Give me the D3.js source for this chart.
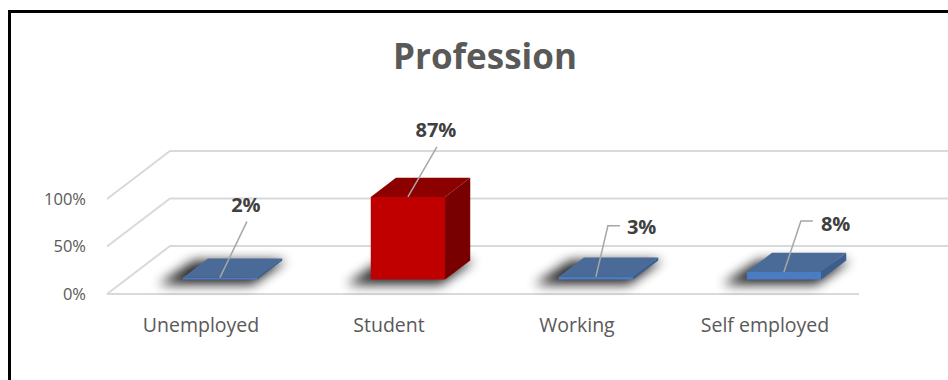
<!DOCTYPE html>
<html>
<head>
<meta charset="utf-8">
<script src="https://cdn.jsdelivr.net/npm/d3@7"></script>
<style>
  html, body { margin: 0; background: #fff; overflow: hidden; }
  svg { display: block; font-family: 'Open Sans', sans-serif; }
</style>
</head>
<body>
<svg id="chart" width="948" height="380"></svg>
<script>
// data
const categories = ['Unemployed', 'Student', 'Working', 'Self employed']
const values = [2, 87, 3, 8]
const valueTicks = [0, 50, 100]
const labels = ['2%', '87%', '3%', '8%']

const svg = d3.select('#chart')

// frame: only left and top edges show
svg.append('path')
    .attr('d', 'M9.5,380 V11.5 H948')
    .attr('fill', 'none')
    .attr('stroke', '#000')
    .attr('stroke-width', 3)

svg.append('text')
    .attr('x', 485)
    .attr('y', 69)
    .attr('text-anchor', 'middle')
    .attr('font-size', 35)
    .attr('font-weight', 700)
    .attr('fill', '#595959')
    .text('Profession')

// oblique "3d" projection: depth z in [0,1]
const depthX = 63, depthY = -48
const x = d3.scaleBand().domain(categories).range([107, 859])
const y = d3.scaleLinear().domain([0, 100]).range([294, 199])
const P = (px, v, z) => [px + z * depthX, y(v) + z * depthY]

// gridlines (floor + back wall)
const grid = svg.append('g')
    .attr('fill', 'none')
    .attr('stroke', '#d9d9d9')
    .attr('stroke-width', 2)

grid.selectAll('path')
    .data(valueTicks)
    .join('path')
    .attr('d', v => {
        const a = P(107, v, 0), b = P(107, v, 1)
        return `M${a} L${b} H948`
    })
grid.append('path')
    .attr('d', `M${P(107, 0, 0)} H859`)

svg.append('g')
    .selectAll('text')
    .data(valueTicks)
    .join('text')
    .attr('x', 86)
    .attr('y', v => y(v))
    .attr('dy', '0.35em')
    .attr('text-anchor', 'end')
    .attr('font-size', 16.5)
    .attr('fill', '#595959')
    .text(v => v + '%')

svg.append('g')
    .selectAll('text')
    .data(categories)
    .join('text')
    .attr('x', d => x(d) + x.bandwidth() / 2)
    .attr('y', 325)
    .attr('dy', '0.35em')
    .attr('text-anchor', 'middle')
    .attr('font-size', 19.5)
    .attr('fill', '#595959')
    .text(d => d)

// bars
const z0 = 0.3, z1 = 0.7
const barW = x.bandwidth() * 0.395
const bars = categories.map((c, i) => {
    const xl = x(c) + (x.bandwidth() - barW) / 2
    return { c, v: values[i], xl, xr: xl + barW, red: values[i] === d3.max(values) }
})

const defs = svg.append('defs')
defs.append('filter')
    .attr('id', 'shadow')
    .attr('x', '-50%').attr('y', '-100%')
    .attr('width', '200%').attr('height', '300%')
    .append('feGaussianBlur')
    .attr('stdDeviation', 6)

const poly = pts => 'M' + pts.map(p => p.join(',')).join('L') + 'Z'

svg.append('g')
    .selectAll('path')
    .data(bars)
    .join('path')
    .attr('d', b => poly([
        P(b.xl - 18, 0, z0 - 0.1), P(b.xr + 2, 0, z0 - 0.1),
        P(b.xr + 4, 0, z1), P(b.xl - 14, 0, z1)
    ]))
    .attr('fill', '#000')
    .attr('opacity', 0.85)
    .attr('filter', 'url(#shadow)')

const colors = {
    red: { front: '#c00000', top: '#8c0000', side: '#780000' },
    blue: { front: '#4a7cc4', top: '#4a6a98', side: '#3b5d90' }
}

const barG = svg.append('g')
    .selectAll('g')
    .data(bars)
    .join('g')

barG.append('path')
    .attr('d', b => poly([P(b.xr, 0, z0), P(b.xr, b.v, z0), P(b.xr, b.v, z1), P(b.xr, 0, z1)]))
    .attr('fill', b => colors[b.red ? 'red' : 'blue'].side)
barG.append('path')
    .attr('d', b => poly([P(b.xl, b.v, z0), P(b.xr, b.v, z0), P(b.xr, b.v, z1), P(b.xl, b.v, z1)]))
    .attr('fill', b => colors[b.red ? 'red' : 'blue'].top)
barG.append('path')
    .attr('d', b => poly([P(b.xl, 0, z0), P(b.xr, 0, z0), P(b.xr, b.v, z0), P(b.xl, b.v, z0)]))
    .attr('fill', b => colors[b.red ? 'red' : 'blue'].front)

// data labels with leader lines (moved by hand in the original)
const leaders = [
    { pts: [[27, -56]], text: [26, -73], anchor: 'middle' },
    { pts: [[29, -50]], text: [28, -67], anchor: 'middle' },
    { pts: [[12, -51], [24, -51]], text: [31, -50], anchor: 'start' },
    { pts: [[17, -51], [29, -51]], text: [37, -48], anchor: 'start' }
]

bars.forEach((b, i) => {
    const s = P((b.xl + b.xr) / 2, b.v, z0)
    const L = leaders[i]
    svg.append('path')
        .attr('d', 'M' + [s, ...L.pts.map(p => [s[0] + p[0], s[1] + p[1]])].map(p => p.join(',')).join('L'))
        .attr('fill', 'none')
        .attr('stroke', '#a6a6a6')
        .attr('stroke-width', 1.5)
    svg.append('text')
        .attr('x', s[0] + L.text[0])
        .attr('y', s[1] + L.text[1])
        .attr('dy', '0.35em')
        .attr('text-anchor', L.anchor)
        .attr('font-size', 20)
        .attr('font-weight', 700)
        .attr('fill', '#404040')
        .text(labels[i])
})
</script>
</body>
</html>
